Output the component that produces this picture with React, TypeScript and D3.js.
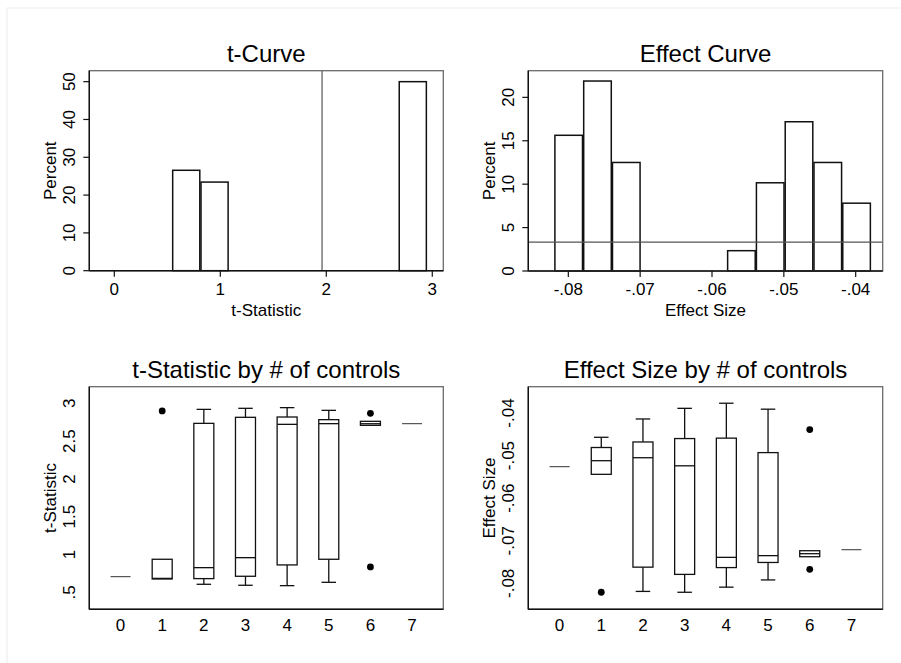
import React, { useEffect, useRef } from 'react';
import * as d3 from 'd3';

// ---- data ----
// t-Curve histogram (9 bins, 128 specs)
const tBinStart = 0.545;
const tBinWidth = 0.2672;
const tPercent = [26.56, 23.44, 0, 0, 0, 0, 0, 0, 50];
const tCritical = 1.96;
const tXTicks = [0, 1, 2, 3];
const tYTicks = [0, 10, 20, 30, 40, 50];

// Effect Curve histogram (11 bins)
const effBinStart = -0.08195;
const effBinWidth = 0.004007;
const effPercent = [15.63, 21.88, 12.5, 0, 0, 0, 2.34, 10.16, 17.19, 12.5, 7.81];
const effRefLine = 3.33;
const effXTicks = [-0.08, -0.07, -0.06, -0.05, -0.04];
const effYTicks = [0, 5, 10, 15, 20];

// box plots by number of controls
const controls = [0, 1, 2, 3, 4, 5, 6, 7];
const tLo = [0.707, 0.676, 0.606, 0.593, 0.588, 0.632, 2.709, 2.731];
const tQ1 = [0.707, 0.676, 0.681, 0.712, 0.862, 0.937, 2.709, 2.731];
const tMed = [0.707, 0.684, 0.826, 0.958, 2.722, 2.731, 2.73, 2.731];
const tQ3 = [0.707, 0.937, 2.735, 2.815, 2.819, 2.784, 2.762, 2.731];
const tHi = [0.707, 0.937, 2.92, 2.934, 2.943, 2.907, 2.762, 2.731];
const tOut = [[], [2.9], [], [], [], [], [2.868, 0.835], []];
const tBoxYTicks = [0.5, 1, 1.5, 2, 2.5, 3];

const eLo = [-0.0526, -0.0544, -0.0819, -0.0821, -0.0809, -0.0792, -0.07375, -0.0721];
const eQ1 = [-0.0526, -0.0544, -0.0762, -0.0779, -0.0763, -0.0751, -0.07375, -0.0721];
const eMed = [-0.0526, -0.0512, -0.0505, -0.0524, -0.0739, -0.0735, -0.07304, -0.0721];
const eQ3 = [-0.0526, -0.0481, -0.0468, -0.046, -0.0459, -0.0493, -0.07234, -0.0721];
const eHi = [-0.0526, -0.0457, -0.0414, -0.0389, -0.0377, -0.0391, -0.07234, -0.0721];
const eOut = [[], [-0.0821], [], [], [], [], [-0.0439, -0.0767], []];
const eBoxYTicks = [-0.08, -0.07, -0.06, -0.05, -0.04];

const FONT = '"Liberation Sans", Arial, Helvetica, sans-serif';
const LABEL_SIZE = '17px';
const TITLE_SIZE = '24px';
const stataFmt = (d: number) => String(+d.toFixed(4)).replace(/^(-?)0\./, '$1.');

type Frame = { left: number; right: number; top: number; bottom: number };

const App: React.FC = () => {
    const svgRef = useRef<SVGSVGElement>(null);

    useEffect(() => {
        if (!svgRef.current) return;
        const svg = d3.select(svgRef.current);
        svg.selectAll('*').remove();

        svg.append('rect')
            .attr('x', 7).attr('y', 8)
            .attr('width', 900).attr('height', 660)
            .attr('fill', 'none')
            .attr('stroke', '#e9eeee');

        // frame, axes, titles shared by all panels
        const drawFrame = (
            f: Frame,
            x: d3.ScaleLinear<number, number>,
            y: d3.ScaleLinear<number, number>,
            opts: {
                title: string; xTitle?: string; yTitle: string;
                xTicks: number[]; yTicks: number[];
                xTickMarks: boolean; yTickMarks: boolean; xLabelGap: number;
            }
        ) => {
            const g = svg.append('g');
            g.append('rect')
                .attr('x', f.left).attr('y', f.top)
                .attr('width', f.right - f.left).attr('height', f.bottom - f.top)
                .attr('fill', 'none').attr('stroke', '#6a6a6a').attr('stroke-width', 1.3);
            g.append('line')
                .attr('x1', f.left).attr('x2', f.right).attr('y1', f.bottom).attr('y2', f.bottom)
                .attr('stroke', '#111').attr('stroke-width', 1.4);
            g.append('line')
                .attr('x1', f.left).attr('x2', f.left).attr('y1', f.top).attr('y2', f.bottom)
                .attr('stroke', '#111').attr('stroke-width', 1.4);

            opts.xTicks.forEach(t => {
                if (opts.xTickMarks) {
                    g.append('line')
                        .attr('x1', x(t)).attr('x2', x(t)).attr('y1', f.bottom).attr('y2', f.bottom + 6)
                        .attr('stroke', '#111').attr('stroke-width', 1.2);
                }
                g.append('text')
                    .attr('x', x(t)).attr('y', f.bottom + opts.xLabelGap)
                    .attr('text-anchor', 'middle')
                    .style('font-family', FONT).style('font-size', LABEL_SIZE)
                    .text(stataFmt(t));
            });
            opts.yTicks.forEach(t => {
                if (opts.yTickMarks) {
                    g.append('line')
                        .attr('x1', f.left - 6).attr('x2', f.left).attr('y1', y(t)).attr('y2', y(t))
                        .attr('stroke', '#111').attr('stroke-width', 1.2);
                }
                g.append('text')
                    .attr('transform', `translate(${f.left - 14},${y(t)}) rotate(-90)`)
                    .attr('text-anchor', 'middle')
                    .style('font-family', FONT).style('font-size', LABEL_SIZE)
                    .text(stataFmt(t));
            });

            g.append('text')
                .attr('x', (f.left + f.right) / 2).attr('y', f.top - 8.5)
                .attr('text-anchor', 'middle')
                .style('font-family', FONT).style('font-size', TITLE_SIZE)
                .text(opts.title);
            if (opts.xTitle) {
                g.append('text')
                    .attr('x', (f.left + f.right) / 2).attr('y', f.bottom + 45)
                    .attr('text-anchor', 'middle')
                    .style('font-family', FONT).style('font-size', LABEL_SIZE)
                    .text(opts.xTitle);
            }
            g.append('text')
                .attr('transform', `translate(${f.left - 33.3},${(f.top + f.bottom) / 2}) rotate(-90)`)
                .attr('text-anchor', 'middle')
                .style('font-family', FONT).style('font-size', LABEL_SIZE)
                .text(opts.yTitle);
        };

        const drawHist = (
            f: Frame, x: d3.ScaleLinear<number, number>, y: d3.ScaleLinear<number, number>,
            start: number, width: number, pct: number[]
        ) => {
            svg.append('g')
                .selectAll('rect')
                .data(pct.map((p, i) => ({ x0: start + i * width, x1: start + (i + 1) * width, p })).filter(d => d.p > 0))
                .join('rect')
                .attr('x', d => x(d.x0) + 0.6)
                .attr('width', d => x(d.x1) - x(d.x0) - 1.2)
                .attr('y', d => y(d.p))
                .attr('height', d => y(0) - y(d.p))
                .attr('fill', '#fff')
                .attr('stroke', '#111')
                .attr('stroke-width', 1.5);
        };

        const drawBoxes = (
            x: d3.ScaleLinear<number, number>, y: d3.ScaleLinear<number, number>,
            lo: number[], q1: number[], med: number[], q3: number[], hi: number[], out: number[][]
        ) => {
            const bw = 20, cw = 14.5;
            const g = svg.append('g')
                .attr('stroke', '#111').attr('stroke-width', 1.3).attr('fill', 'none');
            controls.forEach((c, i) => {
                const cx = x(c);
                if (q3[i] > q1[i]) {
                    // whiskers and caps
                    if (hi[i] > q3[i]) {
                        g.append('line').attr('x1', cx).attr('x2', cx).attr('y1', y(q3[i])).attr('y2', y(hi[i]));
                        g.append('line').attr('x1', cx - cw / 2).attr('x2', cx + cw / 2).attr('y1', y(hi[i])).attr('y2', y(hi[i]));
                    }
                    if (lo[i] < q1[i]) {
                        g.append('line').attr('x1', cx).attr('x2', cx).attr('y1', y(q1[i])).attr('y2', y(lo[i]));
                        g.append('line').attr('x1', cx - cw / 2).attr('x2', cx + cw / 2).attr('y1', y(lo[i])).attr('y2', y(lo[i]));
                    }
                    g.append('rect')
                        .attr('x', cx - bw / 2).attr('width', bw)
                        .attr('y', y(q3[i])).attr('height', y(q1[i]) - y(q3[i]))
                        .attr('fill', '#fff');
                }
                g.append('line')
                    .attr('x1', cx - bw / 2).attr('x2', cx + bw / 2)
                    .attr('y1', y(med[i])).attr('y2', y(med[i]))
                    .attr('stroke-width', q3[i] > q1[i] ? 1.3 : 1.1)
                    .attr('stroke', q3[i] > q1[i] ? '#111' : '#444');
                out[i].forEach(v => {
                    svg.append('circle')
                        .attr('cx', cx).attr('cy', y(v)).attr('r', 3.4)
                        .attr('fill', '#000');
                });
            });
        };

        // panel 1: t-Curve
        const f1: Frame = { left: 89.3, right: 443.3, top: 70.7, bottom: 270.7 };
        const x1 = d3.scaleLinear().domain([-0.236, 3.104]).range([f1.left, f1.right]);
        const y1 = d3.scaleLinear().domain([0, 52.9]).range([f1.bottom, f1.top]);
        drawHist(f1, x1, y1, tBinStart, tBinWidth, tPercent);
        svg.append('line')
            .attr('x1', x1(tCritical)).attr('x2', x1(tCritical))
            .attr('y1', f1.top).attr('y2', f1.bottom)
            .attr('stroke', '#555').attr('stroke-width', 1.2);
        drawFrame(f1, x1, y1, {
            title: 't-Curve', xTitle: 't-Statistic', yTitle: 'Percent',
            xTicks: tXTicks, yTicks: tYTicks, xTickMarks: true, yTickMarks: true, xLabelGap: 24.3
        });

        // panel 2: Effect Curve
        const f2: Frame = { left: 528.3, right: 882.7, top: 70.7, bottom: 271 };
        const x2 = d3.scaleLinear().domain([-0.08557, -0.03624]).range([f2.left, f2.right]);
        const y2 = d3.scaleLinear().domain([0, 23.07]).range([f2.bottom, f2.top]);
        drawHist(f2, x2, y2, effBinStart, effBinWidth, effPercent);
        svg.append('line')
            .attr('x1', f2.left).attr('x2', f2.right)
            .attr('y1', y2(effRefLine)).attr('y2', y2(effRefLine))
            .attr('stroke', '#555').attr('stroke-width', 1.2);
        drawFrame(f2, x2, y2, {
            title: 'Effect Curve', xTitle: 'Effect Size', yTitle: 'Percent',
            xTicks: effXTicks, yTicks: effYTicks, xTickMarks: true, yTickMarks: true, xLabelGap: 24.3
        });

        // panel 3: t-Statistic by # of controls
        const f3: Frame = { left: 89.3, right: 443.3, top: 386.7, bottom: 609.3 };
        const x3 = d3.scaleLinear().domain([-0.75, 7.75]).range([f3.left, f3.right]);
        const y3 = d3.scaleLinear().domain([0.275, 3.22]).range([f3.bottom, f3.top]);
        drawBoxes(x3, y3, tLo, tQ1, tMed, tQ3, tHi, tOut);
        drawFrame(f3, x3, y3, {
            title: 't-Statistic by # of controls', yTitle: 't-Statistic',
            xTicks: controls, yTicks: tBoxYTicks, xTickMarks: false, yTickMarks: false, xLabelGap: 21.4
        });

        // panel 4: Effect Size by # of controls
        const f4: Frame = { left: 528.3, right: 882.7, top: 386.7, bottom: 609.3 };
        const x4 = d3.scaleLinear().domain([-0.75, 7.75]).range([f4.left, f4.right]);
        const y4 = d3.scaleLinear().domain([-0.0861, -0.03382]).range([f4.bottom, f4.top]);
        drawBoxes(x4, y4, eLo, eQ1, eMed, eQ3, eHi, eOut);
        drawFrame(f4, x4, y4, {
            title: 'Effect Size by # of controls', yTitle: 'Effect Size',
            xTicks: controls, yTicks: eBoxYTicks, xTickMarks: false, yTickMarks: false, xLabelGap: 21.4
        });
    }, []);

    return (
        <svg
            ref={svgRef}
            width={901}
            height={663}
            style={{ position: 'absolute', left: 0, top: 0, background: '#fff' }}
        />
    );
};

export default App;
